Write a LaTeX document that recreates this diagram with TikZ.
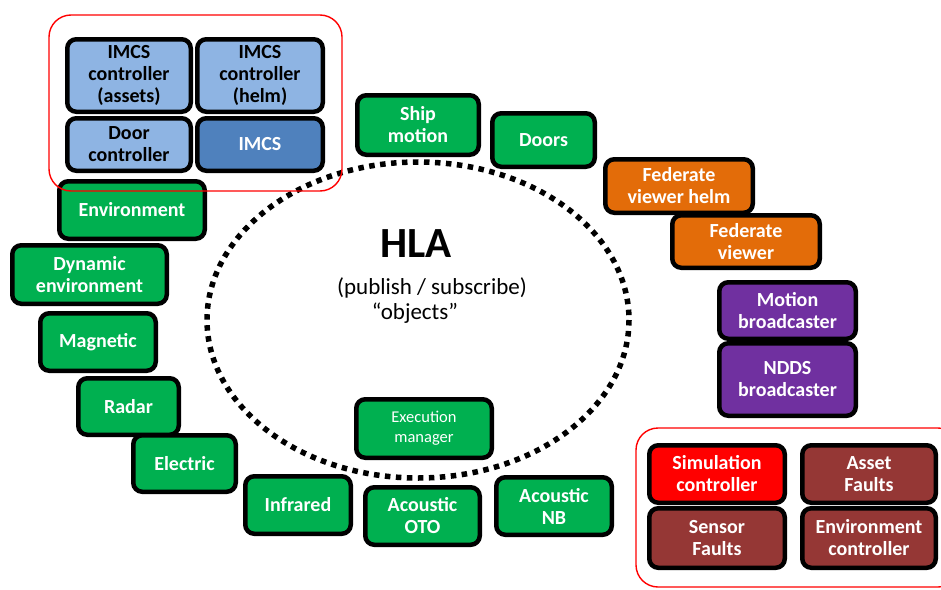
\documentclass[tikz,border=0pt]{standalone}
\usepackage{fontspec}
\setmainfont{Carlito}
\usepackage{tikz}

\definecolor{fedgreen}{HTML}{00B050}
\definecolor{imcslight}{HTML}{8EB4E3}
\definecolor{imcsdark}{HTML}{4F81BD}
\definecolor{fedorange}{HTML}{E36C09}
\definecolor{fedpurple}{HTML}{7030A0}
\definecolor{fedred}{HTML}{FF0000}
\definecolor{fedbrown}{HTML}{953735}

\tikzset{
    fed/.style={draw=black, line width=4.5pt, rounded corners=9pt, align=center,
        text=white, inner sep=0pt, font=\fontsize{20}{22}\selectfont\bfseries},
    fedgroup/.style={draw=red, line width=1.4pt, rounded corners=22pt},
    hlaring/.style={draw=black, line width=5.5pt, dash pattern=on 5.5pt off 5.5pt},
}

\begin{document}
\begin{tikzpicture}[x=1pt, y=-1pt]
            \useasboundingbox (0,0) rectangle (941,589);

            \draw[hlaring] (418,320) ellipse [x radius=211, y radius=158];
            \node[font=\fontsize{43}{45}\selectfont\bfseries] (hla) at (416,244) {HLA};
            \node[font=\fontsize{23}{26}\selectfont] (pubsub) at (432,288) {(publish / subscribe)};
            \node[font=\fontsize{23}{26}\selectfont] (objects) at (415,313) {“objects”};

            % name, x1, y1, x2, y2, fill, text
            \newcommand{\fedblock}[7]{
                \node[fed, fill=#6, minimum width={(#4-#2)*1pt-4.5pt}, minimum height={(#5-#3)*1pt-4.5pt}]
                    (#1) at ({(#2+#4)/2}, {(#3+#5)/2}) {#7};
            }

            \fedblock{imcsassets}{65}{37}{193}{114}{imcslight, text=black}{IMCS\\controller\\(assets)};
            \fedblock{imcshelm}{195}{37}{325}{114}{imcslight, text=black}{IMCS\\controller\\(helm)};
            \fedblock{doorctrl}{65}{116}{193}{173}{imcslight, text=black}{Door\\controller};
            \fedblock{imcs}{195}{116}{325}{173}{imcsdark}{IMCS};

            \fedblock{shipmotion}{355}{93}{481}{157}{fedgreen}{Ship\\motion};
            \fedblock{doors}{490}{111}{597}{169}{fedgreen}{Doors};
            \fedblock{environment}{57}{179}{207}{241}{fedgreen}{Environment};
            \fedblock{dynenv}{10}{243}{169}{306}{fedgreen}{Dynamic\\environment};
            \fedblock{magnetic}{38}{311}{158}{373}{fedgreen}{Magnetic};
            \fedblock{radar}{76}{376}{181}{437}{fedgreen}{Radar};
            \fedblock{electric}{131}{433}{238}{494}{fedgreen}{Electric};
            \fedblock{infrared}{243}{474}{353}{536}{fedgreen}{Infrared};
            \fedblock{acousticoto}{363}{485}{482}{547}{fedgreen}{Acoustic\\OTO};
            \fedblock{acousticnb}{494}{475}{614}{537}{fedgreen}{Acoustic\\NB};
            \fedblock{execmgr}{354}{397}{494}{460}{fedgreen, font=\fontsize{16.5}{20}\selectfont}{Execution\\manager};

            \fedblock{fedviewhelm}{603}{157}{755}{215}{fedorange}{Federate\\viewer helm};
            \fedblock{fedview}{670}{213}{822}{270}{fedorange}{Federate\\viewer};
            \fedblock{motionbc}{717}{280}{858}{341}{fedpurple}{Motion\\broadcaster};
            \fedblock{nddsbc}{717}{341}{858}{418}{fedpurple}{NDDS\\broadcaster};

            \fedblock{simctrl}{647}{443}{787}{505}{fedred}{Simulation\\controller};
            \fedblock{assetfaults}{800}{443}{938}{505}{fedbrown}{Asset\\Faults};
            \fedblock{sensorfaults}{647}{506}{787}{570}{fedbrown}{Sensor\\Faults};
            \fedblock{envctrl}{800}{506}{938}{570}{fedbrown}{Environment\\controller};

            % the two groups
            \draw[fedgroup] (49,15) rectangle (342,191);
            \begin{scope}
                \clip (0,0) rectangle (941,589);
                \draw[fedgroup] (636,428) rectangle (960,587);
            \end{scope}
        \end{tikzpicture}
\end{document}
